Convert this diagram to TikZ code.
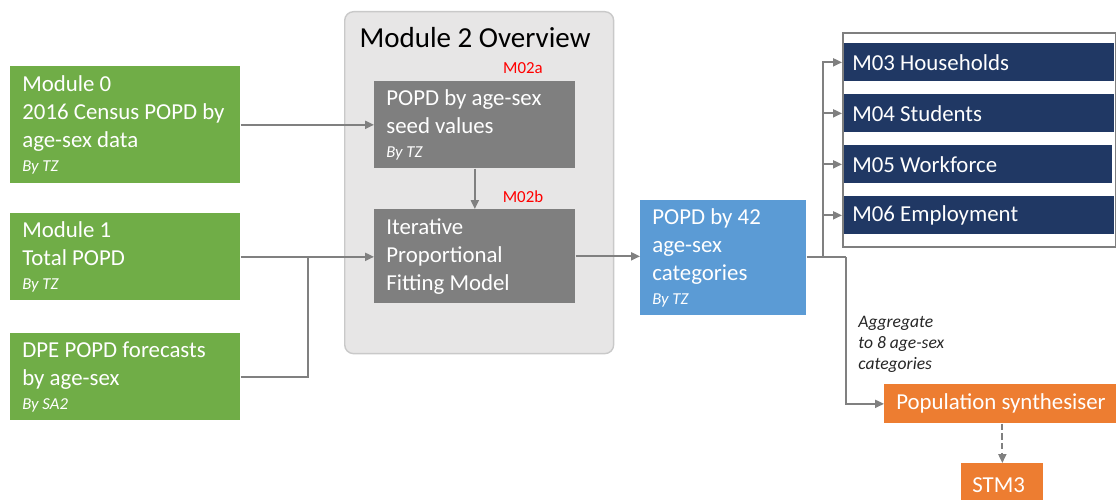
\documentclass[tikz,border=0pt]{standalone}
\usepackage{fontspec}
\setmainfont{Carlito}
\usetikzlibrary{arrows.meta}

\definecolor{cgreen}{HTML}{70AD47}
\definecolor{cgray}{HTML}{7F7F7F}
\definecolor{cpanel}{HTML}{E7E6E6}
\definecolor{cpanelline}{HTML}{C9C9C9}
\definecolor{cblue}{HTML}{5B9BD5}
\definecolor{cnavy}{HTML}{203864}
\definecolor{corange}{HTML}{ED7D31}
\definecolor{cline}{HTML}{808080}

% small italic source note under a box text
\newcommand\srcnote[1]{\\[-2.5pt]{\fontsize{9.5pt}{11pt}\selectfont\itshape #1}}

\begin{document}
\begin{tikzpicture}[x=0.02cm,y=-0.02cm,
  box/.style={rectangle, draw=none, inner xsep=0.24cm, inner ysep=0pt,
    align=flush left, anchor=north west, text=white,
    font=\fontsize{13pt}{16pt}\selectfont},
  greenbox/.style={box, fill=cgreen, text width=4.12cm},
  graybox/.style={box, fill=cgray, text width=3.54cm},
  bluebox/.style={box, fill=cblue, text width=2.84cm},
  navbox/.style={box, fill=cnavy, inner xsep=0.16cm, text width=5.08cm,
    minimum height=0.76cm},
  orangebox/.style={box, fill=corange},
  tag/.style={text=red, font=\fontsize{9.6pt}{11pt}\selectfont, inner sep=0pt},
  conn/.style={draw=cline, line width=1pt},
  arrow/.style={conn, -{Triangle[length=5pt,width=4.5pt]}}
]
\useasboundingbox (0,0) rectangle (1116,500);
\clip (0,0) rectangle (1116,500);

% Module 2 panel
\node[draw=cpanelline, fill=cpanel, line width=0.8pt, rounded corners=5pt,
  minimum width=5.38cm, minimum height=6.84cm, inner sep=0pt,
  anchor=north west] (panel) at (344,11) {};
\node[font=\fontsize{16.5pt}{19pt}\selectfont, inner sep=0pt] (title)
  at (475,38) {Module 2 Overview};

% input boxes
\node[greenbox, minimum height=2.34cm] (m0) at (10,66)
  {Module 0\\\mbox{2016 Census POPD by}\\age-sex data\srcnote{By TZ}};
\node[greenbox, minimum height=1.74cm] (m1) at (10,213)
  {Module 1\\Total POPD\srcnote{By TZ}};
\node[greenbox, minimum height=1.74cm] (dpe) at (10,333)
  {\mbox{DPE POPD forecasts}\\by age-sex\srcnote{By SA2}};

% module 2 steps
\node[graybox, minimum height=1.74cm] (seed) at (374,81)
  {\mbox{POPD by age-sex}\\seed values\srcnote{By TZ}};
\node[graybox, minimum height=1.88cm] (ipf) at (374,209)
  {Iterative\\Proportional\\Fitting Model};
\node[tag] (tagA) at (523,68) {M02a};
\node[tag] (tagB) at (523,197) {M02b};

% output
\node[bluebox, minimum height=2.3cm] (out) at (640,200)
  {POPD by 42\\age-sex\\categories\srcnote{By TZ}};

% downstream modules
\node[draw=cgray, line width=1pt, fill=white, minimum width=5.46cm,
  minimum height=4.28cm, inner sep=0pt, anchor=north west] (frame) at (842,32) {};
\node[navbox] (m03) at (844,43) {M03 Households};
\node[navbox] (m04) at (844,94) {M04 Students};
\node[navbox, text width=5.04cm] (m05) at (844,145) {M05 Workforce};
\node[navbox] (m06) at (844,196) {M06 Employment};

\node[orangebox, text width=4.16cm, minimum height=0.78cm] (pop) at (884,384)
  {\mbox{Population synthesiser}};
\node[orangebox, inner xsep=0.22cm, text width=1.2cm, minimum height=0.88cm]
  (stm) at (961,463) {STM3};

\node[inner sep=0pt, anchor=north west, align=flush left,
  font=\fontsize{10pt}{12pt}\selectfont\itshape, text=black!85] (agg)
  at (858,316) {Aggregate\\to 8 age-sex\\categories};

% connectors
\coordinate (j1) at (308,256.5);
\coordinate (s1) at (823,257);
\coordinate (s2) at (846,257);

\draw[arrow] (m0.east) -- (m0.east -| seed.west);
\draw[arrow] (m1.east) -- (m1.east -| ipf.west);
\draw[conn] (dpe.east) -| (j1);
\draw[arrow] (seed.south) -- (ipf.north);
\draw[arrow] (ipf.east) -- (ipf.east -| out.west);

\draw[conn] (out.east |- s1) -- (s2);
\draw[arrow] (s1) |- (m03.west -| frame.west);
\draw[arrow] (s1 |- m04.west) -- (m04.west -| frame.west);
\draw[arrow] (s1 |- m05.west) -- (m05.west -| frame.west);
\draw[arrow] (s1 |- m06.west) -- (m06.west -| frame.west);
\draw[arrow] (s2) |- (pop.west);
\draw[arrow, dash pattern=on 3.5pt off 2pt] (stm.north |- pop.south) -- (stm.north);
\end{tikzpicture}
\end{document}
